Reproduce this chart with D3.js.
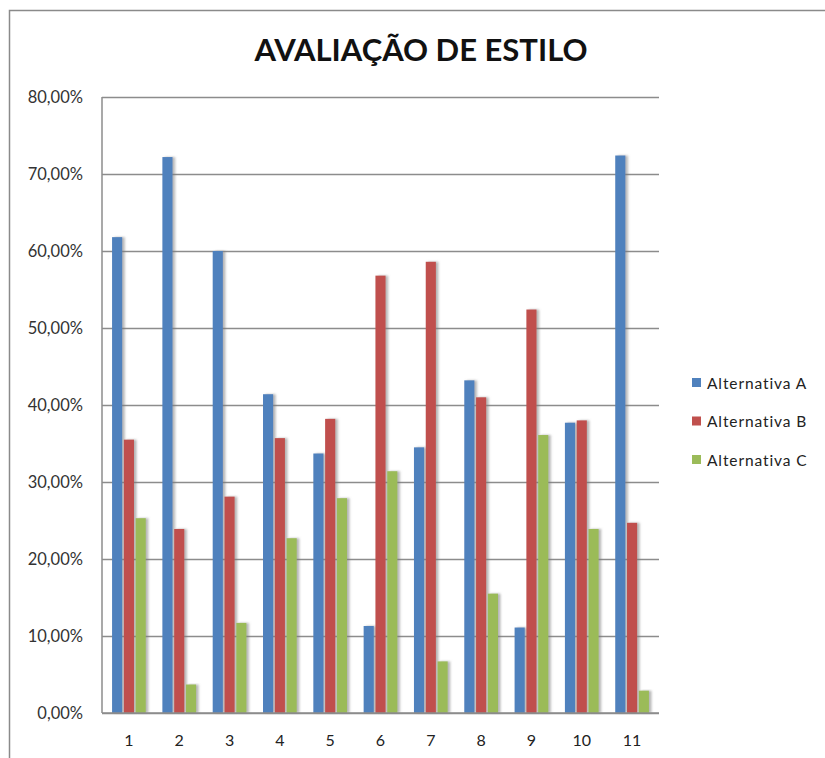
<!DOCTYPE html>
<html>
<head>
<meta charset="utf-8">
<script src="https://cdn.jsdelivr.net/npm/d3@7"></script>
<style>
  html, body { margin: 0; padding: 0; background: #fff; }
  svg { display: block; }
  text { font-family: Lato, "Open Sans", sans-serif; fill: #222; }
</style>
</head>
<body>
<svg id="chart" width="825" height="758"></svg>
<script>
// Questions (1..11) and share of answers per alternative
const categories = ["1", "2", "3", "4", "5", "6", "7", "8", "9", "10", "11"];
const seriesNames = ["Alternativa A", "Alternativa B", "Alternativa C"];
const alternativaA = [61.8, 72.2, 60.0, 41.4, 33.7, 11.3, 34.5, 43.2, 11.1, 37.7, 72.4];
const alternativaB = [35.5, 23.9, 28.1, 35.7, 38.2, 56.8, 58.6, 41.0, 52.4, 38.0, 24.7];
const alternativaC = [25.3, 3.7, 11.7, 22.7, 27.9, 31.4, 6.7, 15.5, 36.1, 23.9, 2.9];
const yTicks = [0, 10, 20, 30, 40, 50, 60, 70, 80];
const colors = ["#4F81BD", "#C0504D", "#9BBB59"];

const seriesValues = [alternativaA, alternativaB, alternativaC];

const svg = d3.select("#chart");

// outer chart frame
svg.append("path")
  .attr("d", "M9.5,758 V10.5 H825")
  .attr("fill", "none")
  .attr("stroke", "#8a8a8a")
  .attr("stroke-width", 1.5);

const plot = { left: 102, right: 659, top: 97, bottom: 713 };

const y = d3.scaleLinear().domain([0, 80]).range([plot.bottom, plot.top]);
const x0 = d3.scaleBand().domain(categories)
  .range([plot.left, plot.right])
  .paddingInner(0.33).paddingOuter(0.2);
const x1 = d3.scaleBand().domain(seriesNames)
  .range([0, x0.bandwidth()])
  .paddingInner(0.14);

// soft shadow on the right of every bar
const defs = svg.append("defs");
const f = defs.append("filter").attr("id", "shadow")
  .attr("x", "-50%").attr("y", "-5%").attr("width", "200%").attr("height", "110%");
f.append("feDropShadow")
  .attr("dx", 2.5).attr("dy", 0).attr("stdDeviation", 1.2)
  .attr("flood-color", "#7a7a7a").attr("flood-opacity", 0.55);

// title
svg.append("text")
  .attr("x", 421).attr("y", 61)
  .attr("text-anchor", "middle")
  .style("font-size", "31px")
  .style("font-weight", "bold")
  .style("fill", "#111")
  .text("AVALIAÇÃO DE ESTILO");

// horizontal gridlines + y labels
const yAxis = d3.axisLeft(y)
  .tickValues(yTicks)
  .tickSize(-(plot.right - plot.left))
  .tickPadding(19)
  .tickFormat(d => d3.format(".2f")(d).replace(".", ",") + "%");

const gy = svg.append("g")
  .attr("transform", `translate(${plot.left},0)`)
  .call(yAxis);
gy.select(".domain").remove();
gy.selectAll(".tick line").attr("stroke", "#8c8c8c").attr("stroke-width", 1.5);
gy.selectAll(".tick text").style("font-size", "16.5px").style("fill", "#333")
  .style("font-family", "Lato, sans-serif");

// left axis line
svg.append("line")
  .attr("x1", plot.left).attr("x2", plot.left)
  .attr("y1", plot.top).attr("y2", plot.bottom)
  .attr("stroke", "#8c8c8c").attr("stroke-width", 1.5);

// bars
const groups = svg.append("g").selectAll("g")
  .data(categories)
  .join("g")
  .attr("transform", d => `translate(${x0(d)},0)`);

groups.selectAll("rect")
  .data((d, i) => seriesNames.map((s, j) => ({ s, v: seriesValues[j][i], c: colors[j] })))
  .join("rect")
  .attr("x", d => x1(d.s))
  .attr("width", x1.bandwidth())
  .attr("y", d => y(d.v))
  .attr("height", d => y(0) - y(d.v))
  .attr("fill", d => d.c)
  .attr("filter", "url(#shadow)");

// baseline
svg.append("line")
  .attr("x1", plot.left).attr("x2", plot.right)
  .attr("y1", plot.bottom).attr("y2", plot.bottom)
  .attr("stroke", "#8c8c8c").attr("stroke-width", 1.5);

// x labels
const xAxis = d3.axisBottom(x0).tickSize(0).tickPadding(22);
const gx = svg.append("g")
  .attr("transform", `translate(0,${plot.bottom})`)
  .call(xAxis);
gx.select(".domain").remove();
gx.selectAll(".tick text").style("font-size", "16px").style("fill", "#222")
  .style("font-family", "Lato, sans-serif");

// legend
const legend = svg.append("g").attr("transform", "translate(692,378)");
const items = legend.selectAll("g")
  .data(seriesNames)
  .join("g")
  .attr("transform", (d, i) => `translate(0,${i * 38.5})`);
items.append("rect")
  .attr("width", 9).attr("height", 9)
  .attr("fill", (d, i) => colors[i]);
items.append("text")
  .attr("x", 15).attr("y", 10.5)
  .style("font-size", "15.5px")
  .style("letter-spacing", "0.9px")
  .style("fill", "#222")
  .text(d => d);
</script>
</body>
</html>
